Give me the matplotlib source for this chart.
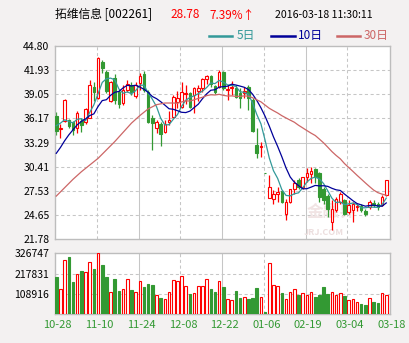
import matplotlib
matplotlib.use('Agg')
import matplotlib.pyplot as plt
import matplotlib.transforms as mtransforms
from matplotlib.lines import Line2D
import numpy as np
import pandas as pd

plt.rcParams['font.family'] = ['Noto Sans CJK SC', 'DejaVu Sans']

# daily candles 2015-10-28 .. 2016-03-18 (trading halt in Jan/Feb)
opens = [36.48, 34.87, 35.90, 35.97, 35.69, 34.97, 35.85, 35.69, 36.24, 39.94,
         38.55, 42.93, 41.65, 38.25, 41.00, 39.30, 38.00, 39.50, 40.20, 38.80,
         40.42, 41.50, 39.35, 36.16, 34.97, 35.49, 34.57, 35.69, 36.36, 38.15,
         37.56, 39.03, 39.15, 38.95, 39.43, 39.83, 40.82, 41.20, 40.00, 39.95,
         41.66, 39.55, 39.75, 39.83, 39.15, 39.15, 39.95, 38.35, 32.98, 32.70,
         29.61, 26.65, 26.53, 27.20, 27.53, 24.80, 26.20, 27.72, 28.85, 28.00,
         29.20, 29.59, 30.07, 29.60, 27.80, 26.88, 23.82, 25.21, 26.21, 26.41,
         25.01, 25.21, 25.63, 25.69, 25.13, 25.61, 26.09, 26.01, 25.81, 27.00]
highs = [36.96, 35.50, 38.50, 36.08, 35.85, 37.04, 36.16, 37.36, 40.74, 40.54,
         43.53, 43.17, 41.95, 40.60, 41.50, 39.50, 40.10, 40.80, 40.50, 40.50,
         41.54, 41.80, 39.50, 36.56, 35.97, 35.77, 35.97, 37.04, 38.95, 39.43,
         40.46, 40.14, 39.35, 39.94, 40.14, 41.02, 41.34, 41.40, 40.20, 41.94,
         41.80, 40.14, 40.62, 40.14, 39.75, 39.94, 40.14, 38.55, 34.97, 33.38,
         29.61, 29.40, 27.60, 28.00, 27.60, 26.60, 27.80, 28.80, 29.00, 29.20,
         30.20, 30.31, 30.19, 29.80, 28.00, 27.20, 26.41, 26.80, 27.40, 26.60,
         26.41, 26.20, 26.01, 26.00, 25.40, 26.49, 26.41, 26.21, 27.00, 28.80]
lows = [34.17, 33.80, 35.70, 34.97, 34.17, 34.45, 34.49, 35.49, 36.16, 38.23,
        38.47, 41.54, 39.20, 38.10, 37.90, 37.40, 37.80, 39.30, 38.90, 38.60,
        39.55, 39.30, 35.57, 32.38, 34.37, 32.90, 34.37, 35.37, 36.24, 37.36,
        37.36, 37.84, 37.44, 36.76, 38.23, 39.35, 40.22, 39.90, 39.10, 39.80,
        39.50, 38.35, 38.95, 38.55, 37.36, 38.55, 37.20, 34.57, 31.39, 31.59,
        29.61, 26.65, 25.94, 26.20, 26.10, 24.02, 26.13, 27.20, 27.80, 27.80,
        28.60, 28.40, 28.40, 26.20, 26.00, 24.42, 22.82, 25.00, 26.00, 24.60,
        24.82, 23.82, 25.13, 25.00, 24.50, 25.41, 25.61, 25.21, 25.73, 26.92]
closes = [34.65, 35.07, 38.40, 35.25, 34.77, 36.84, 35.37, 37.24, 40.14, 39.35,
          43.41, 42.13, 39.45, 40.50, 38.35, 37.90, 39.60, 40.30, 39.35, 40.20,
          41.22, 39.50, 35.77, 35.57, 35.77, 34.29, 35.49, 35.97, 38.75, 38.55,
          39.27, 39.15, 37.56, 39.75, 39.83, 40.82, 41.26, 40.30, 39.35, 41.74,
          39.75, 39.70, 39.95, 38.75, 38.55, 39.43, 38.55, 34.70, 31.98, 32.90,
          29.61, 28.00, 27.13, 27.40, 26.21, 26.15, 27.72, 28.40, 27.95, 29.15,
          29.67, 29.87, 29.20, 26.80, 26.41, 25.40, 25.41, 26.60, 27.20, 24.82,
          25.81, 25.93, 25.75, 25.21, 24.82, 26.21, 25.89, 25.61, 26.80, 28.78]
volumes = [198000, 138000, 292000, 305000, 172000, 218000, 230000, 228000, 282000, 241000,
           326747, 262000, 198000, 117000, 188000, 124000, 138000, 191000, 129000, 117000,
           181000, 145000, 161000, 156000, 101000, 87000, 80000, 122000, 186000, 181000,
           207000, 154000, 108000, 112000, 149000, 154000, 191000, 135000, 119000, 181000,
           145000, 80000, 74000, 124000, 87000, 90000, 81000, 87000, 140000, 90000,
           12000, 276000, 159000, 149000, 113000, 80000, 117000, 138000, 103000, 112000,
           101000, 122000, 92000, 103000, 145000, 108000, 117000, 106000, 112000, 97000,
           74000, 80000, 64000, 55000, 50000, 85000, 66000, 60000, 112000, 101000]

# moving-average values for the first sessions (window reaches back before 10-28)
ma5_head = [35.3, 35.6, 36.0, 35.8]
ma10_head = [32.0, 32.7, 33.5, 34.2, 34.8, 35.4, 35.8, 36.1, 36.5]
ma30_head = [26.9, 27.9, 28.9, 29.8, 30.6, 31.4, 32.4, 33.4, 34.5, 35.6,
             36.5, 37.3, 37.8, 38.0, 38.0]   # every 2nd session, 0..28

date_labels = ['10-28', '11-10', '11-24', '12-08', '12-22', '01-06', '02-19', '03-04', '03-18']
price_ticks = [21.78, 24.65, 27.53, 30.41, 33.29, 36.17, 39.05, 41.93, 44.80]
vol_ticks = [108916, 217831, 326747]

W, H = 409, 343
UP = '#ff0000'
DOWN = '#339933'
GRID = '#c6c6c6'
FRAME = '#bdbdbd'

o = np.array(opens)
h = np.array(highs)
l = np.array(lows)
c = np.array(closes)
v = np.array(volumes)
x = np.arange(len(c))
up = c > o

s = pd.Series(c)
ma5 = np.concatenate([ma5_head, s.rolling(5).mean().to_numpy()[4:]])
ma10 = np.concatenate([ma10_head, s.rolling(10).mean().to_numpy()[9:]])
x30 = np.concatenate([np.arange(0, 29, 2), np.arange(29, len(c))])
ma30 = np.concatenate([ma30_head, s.rolling(30).mean().to_numpy()[29:]])

fig = plt.figure(figsize=(W / 100, H / 100), dpi=100, facecolor='#f3f1f1')
ax = fig.add_axes([55 / W, 1 - 239 / H, 335 / W, 193 / H])
axv = fig.add_axes([55 / W, 1 - 314.3 / H, 335 / W, 61 / H])

dash = (0, (3, 2.5))
for a in (ax, axv):
    a.set_facecolor('white')
    a.set_xlim(-0.31, 79.9)
    for sp in a.spines.values():
        sp.set_color(FRAME)
        sp.set_linewidth(1.0)
    for k in range(1, 8):
        a.axvline(10 * k - 0.3, color=GRID, lw=0.75,
                  ls=dash if k % 2 else '-', zorder=0.5)
    a.set_xticks([])
    a.tick_params(axis='y', length=0, pad=4, labelsize=7.5)

# price panel
ax.set_ylim(price_ticks[0], price_ticks[-1])
ax.set_yticks(price_ticks)
ax.set_yticklabels(['%.2f' % p for p in price_ticks])
for p in price_ticks[1:-1]:
    ax.axhline(p, color=GRID, lw=0.75, ls='-' if p == 33.29 else dash, zorder=0.5)

# faint site watermark behind the candles
ax.text(66, 25.0, '金融界', color='#f1e4e4', fontsize=12, fontweight='bold',
        ha='center', va='center', zorder=1)
ax.text(64, 22.55, 'JRJ.COM', color='#ecdede', fontsize=6.5, fontweight='bold',
        ha='center', va='center', zorder=1)

bw = 0.62
wick_col = np.where(up, UP, DOWN)
ax.vlines(x, l, h, colors=wick_col, lw=0.9, zorder=2)
body_lo = np.minimum(o, c)
body_h = np.maximum(np.abs(c - o), 0.03)
ax.bar(x[up], body_h[up], bw, bottom=body_lo[up], facecolor='white',
       edgecolor=UP, lw=0.8, zorder=3)
ax.bar(x[~up], body_h[~up], bw, bottom=body_lo[~up], facecolor=DOWN,
       edgecolor=DOWN, lw=0.8, zorder=3)

ax.plot(x, ma5, color='#339999', lw=0.9, zorder=4)
ax.plot(x, ma10, color='#000099', lw=0.9, zorder=4)
ax.plot(x30, ma30, color='#cc6666', lw=0.9, zorder=4)

# volume panel
axv.set_ylim(0, vol_ticks[-1])
axv.set_yticks(vol_ticks)
axv.set_yticklabels([str(t) for t in vol_ticks])
for t in vol_ticks[:2]:
    axv.axhline(t, color=GRID, lw=0.75, ls=dash, zorder=0.5)
axv.bar(x[up], v[up], bw, facecolor='white', edgecolor=UP, lw=0.8, zorder=3)
axv.bar(x[~up], v[~up], bw, facecolor=DOWN, edgecolor=DOWN, lw=0.8, zorder=3)

tr = mtransforms.blended_transform_factory(axv.transData, axv.transAxes)
for k, lab in enumerate(date_labels):
    axv.text(10 * k + 0.3, -0.18, lab, transform=tr, ha='center', va='center',
             color=DOWN, fontsize=8, clip_on=False)

# header
ty = 1 - 15 / H
fig.text(55 / W, ty, '拓维信息 [002261]', fontsize=8.5, va='center')
fig.text(170 / W, ty, '28.78', fontsize=8.5, va='center', color=UP)
fig.text(209 / W, ty, '7.39%↑', fontsize=8.5, va='center', color=UP)
fig.text(275 / W, ty, '2016-03-18 11:30:11', fontsize=7.6, va='center')

ly = 1 - 36 / H
legend = [(209, 232, 237, '5日', '#339999'),
          (271, 295, 298, '10日', '#000099'),
          (337, 360, 364, '30日', '#cc6666')]
for x0, x1, xt, lab, col in legend:
    fig.add_artist(Line2D([x0 / W, x1 / W], [ly, ly], color=col, lw=1.8))
    fig.text(xt / W, ly, lab, fontsize=8.5, va='center', color=col)

fig.savefig('out.png', dpi=100, facecolor=fig.get_facecolor())
